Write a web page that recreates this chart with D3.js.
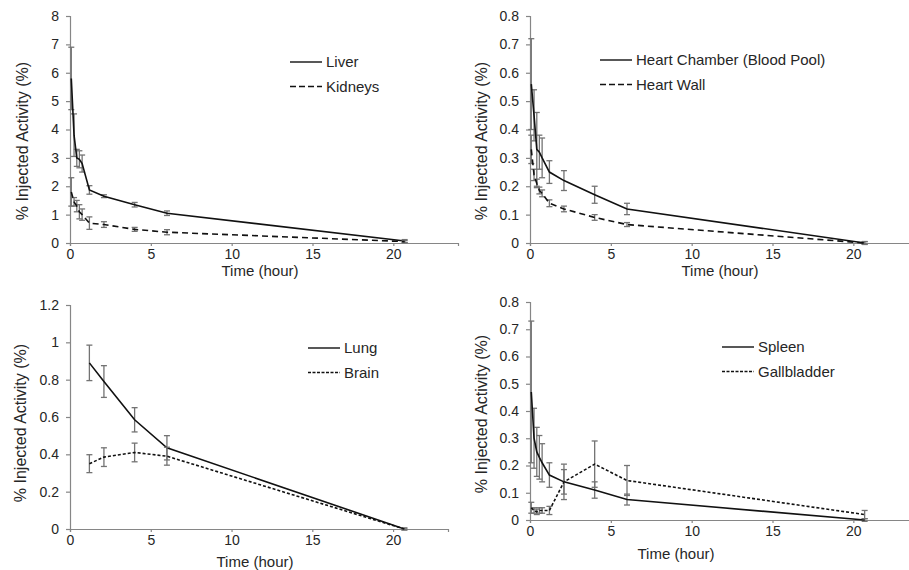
<!DOCTYPE html>
<html>
<head>
<meta charset="utf-8">
<style>
  body { margin: 0; background: #fff; }
  svg { display: block; font-family: "Liberation Sans", Arial, sans-serif; }
</style>
</head>
<body>
<script src="https://cdn.jsdelivr.net/npm/d3@7"></script>
<div id="chart"></div>
<script>
// sampling times (hours)
var times = [0.08, 0.25, 0.42, 0.58, 0.75, 1.2, 2.1, 4, 6, 20.7];
var lateTimes = [1.2, 2.1, 4, 6, 20.7];

// % injected activity, mean and error
var liver      = [5.8, 3.8, 3.0, 2.95, 2.8, 1.87, 1.65, 1.35, 1.05, 0.07];
var liverErr   = [1.1, 0.75, 0.3, 0.3, 0.3, 0.15, 0.05, 0.08, 0.08, 0.05];
var kidneys    = [1.8, 1.45, 1.3, 1.1, 1.0, 0.7, 0.65, 0.48, 0.38, 0.05];
var kidneysErr = [0.5, 0.15, 0.2, 0.25, 0.2, 0.22, 0.1, 0.07, 0.09, 0.04];

var heartChamber    = [0.56, 0.45, 0.33, 0.32, 0.3, 0.25, 0.22, 0.17, 0.12, 0.0];
var heartChamberErr = [0.16, 0.09, 0.13, 0.06, 0.07, 0.04, 0.035, 0.03, 0.02, 0.005];
var heartWall       = [0.33, 0.24, 0.21, 0.185, 0.175, 0.14, 0.12, 0.09, 0.065, 0.0];
var heartWallErr    = [0.05, 0.02, 0.015, 0.012, 0.012, 0.012, 0.01, 0.01, 0.007, 0.005];

var lung     = [0.89, 0.79, 0.585, 0.435, 0.0];
var lungErr  = [0.095, 0.085, 0.065, 0.065, 0.005];
var brain    = [0.35, 0.385, 0.41, 0.39, 0.0];
var brainErr = [0.048, 0.05, 0.05, 0.048, 0.005];

var spleen          = [0.47, 0.3, 0.25, 0.23, 0.21, 0.165, 0.14, 0.11, 0.075, 0.0];
var spleenErr       = [0.26, 0.11, 0.09, 0.08, 0.07, 0.045, 0.045, 0.03, 0.02, 0.005];
var gallbladder     = [0.045, 0.035, 0.03, 0.035, 0.035, 0.035, 0.14, 0.205, 0.145, 0.02];
var gallbladderErr  = [0.02, 0.01, 0.01, 0.01, 0.01, 0.015, 0.065, 0.085, 0.055, 0.015];

var yTicksA = [0, 1, 2, 3, 4, 5, 6, 7, 8];
var yTicksB = [0, 0.1, 0.2, 0.3, 0.4, 0.5, 0.6, 0.7, 0.8];
var yTicksC = [0, 0.2, 0.4, 0.6, 0.8, 1, 1.2];
var xTicks = [0, 5, 10, 15, 20];

var yTitle = "% Injected Activity (%)";
var xTitle = "Time (hour)";

var W = 909, H = 570;
var svg = d3.select("#chart").append("svg")
  .attr("width", W).attr("height", H);

// panel layout
var panels = [
  {x0: 70, x1: 458, xmax: 24, y0: 243, y1: 16, ymax: 8, yticks: yTicksA,
   ytx: 22, yty: 141, xtx: 260, xty: 276,
   lx: 290, ly: 62, series: [
     {name: "Liver", t: times, v: liver, e: liverErr, dash: null},
     {name: "Kidneys", t: times, v: kidneys, e: kidneysErr, dash: "6,4", ldash: "6,3"}]},
  {x0: 530, x1: 918, xmax: 24, y0: 243, y1: 16, ymax: 0.8, yticks: yTicksB,
   ytx: 481, yty: 141, xtx: 720, xty: 276,
   lx: 600, ly: 60, series: [
     {name: "Heart Chamber (Blood Pool)", t: times, v: heartChamber, e: heartChamberErr, dash: null},
     {name: "Heart Wall", t: times, v: heartWall, e: heartWallErr, dash: "6,4", ldash: "6,3"}]},
  {x0: 70, x1: 448, xmax: 23.4, y0: 529, y1: 305, ymax: 1.2, yticks: yTicksC,
   ytx: 20, yty: 423, xtx: 255, xty: 567,
   lx: 308, ly: 348, series: [
     {name: "Lung", t: lateTimes, v: lung, e: lungErr, dash: null},
     {name: "Brain", t: lateTimes, v: brain, e: brainErr, dash: "3,2", ldash: "3,1.5"}]},
  {x0: 530, x1: 918, xmax: 24, y0: 520, y1: 302, ymax: 0.8, yticks: yTicksB,
   ytx: 481, yty: 414, xtx: 676, xty: 559,
   lx: 722, ly: 347, series: [
     {name: "Spleen", t: times, v: spleen, e: spleenErr, dash: null},
     {name: "Gallbladder", t: times, v: gallbladder, e: gallbladderErr, dash: "3,2", ldash: "3,1.5"}]}
];

panels.forEach(function(p) {
  var x = d3.scaleLinear().domain([0, p.xmax]).range([p.x0, p.x1]);
  var y = d3.scaleLinear().domain([0, p.ymax]).range([p.y0, p.y1]);
  var g = svg.append("g");

  // y axis
  var ya = g.append("g")
    .attr("transform", "translate(" + p.x0 + ",0)")
    .call(d3.axisLeft(y).tickValues(p.yticks).tickSize(4).tickPadding(7)
      .tickFormat(d3.format("~g")));
  // x axis
  var xa = g.append("g")
    .attr("transform", "translate(0," + p.y0 + ")")
    .call(d3.axisBottom(x).tickValues(xTicks).tickSize(3).tickPadding(3));
  [ya, xa].forEach(function(a) {
    a.selectAll("path, line").attr("stroke", "#868686").attr("stroke-width", 1.2);
    a.selectAll("text").attr("fill", "#262626").style("font-size", "14px")
      .style("font-family", "'Liberation Sans', Arial, sans-serif");
  });

  // titles
  g.append("text")
    .attr("transform", "translate(" + p.ytx + "," + p.yty + ") rotate(-90)")
    .attr("text-anchor", "middle").attr("dy", "0.35em")
    .attr("fill", "#262626").style("font-size", "16px").text(yTitle);
  g.append("text")
    .attr("x", p.xtx).attr("y", p.xty)
    .attr("text-anchor", "middle")
    .attr("fill", "#262626").style("font-size", "15px").text(xTitle);

  p.series.forEach(function(s, si) {
    var pts = s.t.map(function(t, i) { return {t: t, v: s.v[i], e: s.e[i]}; });

    // error bars
    var eb = g.append("g").attr("stroke", "#737373").attr("stroke-width", 1.3);
    pts.forEach(function(d) {
      var cx = x(d.t), ya1 = y(d.v + d.e), ya0 = y(d.v - d.e);
      eb.append("line").attr("x1", cx).attr("x2", cx).attr("y1", ya1).attr("y2", ya0);
      eb.append("line").attr("x1", cx - 3).attr("x2", cx + 3).attr("y1", ya1).attr("y2", ya1);
      eb.append("line").attr("x1", cx - 3).attr("x2", cx + 3).attr("y1", ya0).attr("y2", ya0);
    });

    // line
    g.append("path")
      .datum(pts)
      .attr("fill", "none")
      .attr("stroke", "#111")
      .attr("stroke-width", 1.6)
      .attr("stroke-dasharray", s.dash)
      .attr("d", d3.line().x(function(d) { return x(d.t); }).y(function(d) { return y(d.v); }));

    // legend
    var ly = p.ly + si * 24.5;
    g.append("line")
      .attr("x1", p.lx).attr("x2", p.lx + 32).attr("y1", ly).attr("y2", ly)
      .attr("stroke", "#111").attr("stroke-width", 1.4)
      .attr("stroke-dasharray", s.ldash || null);
    g.append("text")
      .attr("x", p.lx + 36).attr("y", ly).attr("dy", "0.35em")
      .attr("fill", "#262626").style("font-size", "15px").text(s.name);
  });
});
</script>
</body>
</html>
